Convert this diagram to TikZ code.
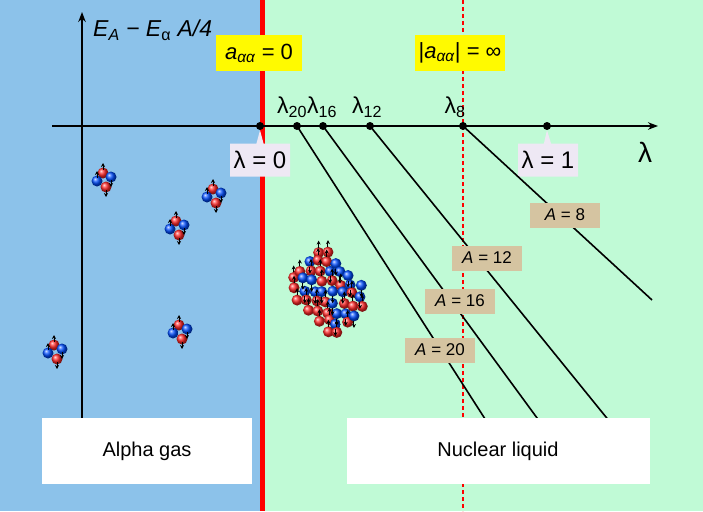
\documentclass[tikz,border=0pt]{standalone}
\usepackage{fontspec}
\setmainfont{Liberation Sans}
\usetikzlibrary{arrows.meta,shapes.callouts}
\definecolor{bluebg}{RGB}{140,194,234}
\definecolor{greenbg}{RGB}{192,250,214}
\definecolor{ybox}{RGB}{255,250,0}
\definecolor{tanbox}{RGB}{213,196,161}
\definecolor{lav}{RGB}{238,232,244}
\newcommand{\fs}[1]{\fontsize{#1}{#1}\selectfont}
\tikzset{
  ax/.style={line width=1.6pt,-{Stealth[length=10pt]}},
  dot/.style={circle,fill=black,inner sep=0pt,minimum size=8pt},
  ylab/.style={fill=ybox,minimum width=86pt,minimum height=35pt,font=\fs{22}},
  tlab/.style={fill=tanbox,minimum width=70pt,minimum height=25pt,font=\fs{17}},
  llab/.style={rectangle callout,fill=lav,minimum width=60pt,minimum height=33pt,font=\fs{24}\rmfamily},
  wbox/.style={fill=white,minimum height=66pt,font=\fs{20}},
  traj/.style={line width=1.6pt},
  nuc/.style={circle,inner sep=0pt,minimum size=11pt},
  pic up/.style={-{Stealth[length=4pt,width=4pt]},line width=1pt},
  alpha/.pic={
    \node[nuc,ball color=red!85!white] at (-1,-7){};
    \node[nuc,ball color=blue!70!cyan] at (7,-3){};
    \node[nuc,ball color=blue!70!cyan] at (-7,1){};
    \node[nuc,ball color=red!85!white] at (2,7){};
    \draw[pic up] (-1,-10)--(-1,-17); \draw[pic up] (7,0)--(7,7);
    \draw[pic up] (-7,-2)--(-7,-9); \draw[pic up] (2,10)--(2,17);
  }
}
\begin{document}
\begin{tikzpicture}[x=1pt,y=-1pt]
\useasboundingbox (0,0) rectangle (703,511);
\fill[bluebg] (0,0) rectangle (262,511);
\fill[greenbg] (262,0) rectangle (703,511);
\draw[red,line width=5pt] (262,0)--(262,511);
\draw[red,line width=1.2pt,dash pattern=on 4pt off 3pt] (463,0)--(463,511);
% axes
\coordinate (xs) at (52,126); \coordinate (xe) at (658,126);
\coordinate (ys) at (82,425); \coordinate (ye) at (82,12);
\draw[ax] (xs)--(xe);
\draw[ax] (ys)--(ye);
\node[anchor=west,font=\fs{23}\itshape,inner sep=0pt] (ylabel) at (93,30) {E\textsubscript{A} − E\textsubscript{\rmfamily\upshape α} A/4};
\node[font=\fs{28}\rmfamily] (lam) at (645,152) {λ};
% yellow
\node[ylab] (y1) at (259,53) {\textit{a}\textsubscript{\textit{αα}} = 0};
\node[ylab] (y2) at (460,53) {|\textit{a}\textsubscript{\textit{αα}}| = ∞};
% dots
\node[dot] (d0) at (260,126){};
\node[dot] (d20) at (297,126){};
\node[dot] (d16) at (323,126){};
\node[dot] (d12) at (370,126){};
\node[dot] (d8) at (463,126){};
\node[dot] (d1) at (547,126){};
\begin{scope}[font=\fs{23}\rmfamily]
\node (l20) at (292,107){λ\textsubscript{20}};
\node (l16) at (322,107){λ\textsubscript{16}};
\node (l12) at (367,107){λ\textsubscript{12}};
\node (l8) at (455,107){λ\textsubscript{8}};
\end{scope}
\node[llab,callout absolute pointer={(d0.south)}] (lz) at (260,160){λ = 0};
\node[llab,callout absolute pointer={(d1.south)}] (lo) at (548,160){λ = 1};
% trajectories
\coordinate (e20) at (487,422); \coordinate (e16) at (540,422);
\coordinate (e12) at (610,422); \coordinate (e8) at (652,300);
\draw[traj] (d20.center)--(e20);
\draw[traj] (d16.center)--(e16);
\draw[traj] (d12.center)--(e12);
\draw[traj] (d8.center)--(e8);
\node[tlab] (a8) at (565,215){\textit{A} = 8};
\node[tlab] (a12) at (487,258){\textit{A} = 12};
\node[tlab] (a16) at (460,301){\textit{A} = 16};
\node[tlab] (a20) at (440,350){\textit{A} = 20};
% bottom boxes
\node[wbox,minimum width=210pt] (gas) at (147,451){Alpha gas};
\node[wbox,minimum width=303pt] (liq) at (498,451){Nuclear liquid};
% alphas
\pic at (104,180) {alpha};
\pic at (214,196) {alpha};
\pic at (177,228) {alpha};
\pic at (180,332) {alpha};
\pic at (55,352) {alpha};
% nuclear cluster: balls, then arrows
\foreach \pass in {0,1}{
\pgfmathsetseed{11}
\foreach \i in {0,...,7}{
  \foreach \j in {0,...,8}{
    \pgfmathsetmacro{\cx}{328+(\i-3.5)*9.5+(\j-4)*1.5+rand*2}
    \pgfmathsetmacro{\cy}{292+(\j-4)*10+(\i-3.5)*1+rand*2}
    \pgfmathsetmacro{\dd}{abs(\i-3.5)/4.2+abs(\j-4)/4.8}
    \pgfmathparse{\dd<1.1?1:0}
    \ifnum\pgfmathresult=1
      \pgfmathparse{rnd<0.5?1:0}
      \ifnum\pgfmathresult=1
        \ifnum\pass=0 \node[nuc,ball color=red!85!white] at (\cx,\cy){};
        \else \draw[pic up] (\cx,\cy-5)--(\cx,\cy-12); \fi
      \else
        \ifnum\pass=0 \node[nuc,ball color=blue!70!cyan] at (\cx,\cy){};
        \else \draw[pic up] (\cx,\cy+5)--(\cx,\cy+12); \fi
      \fi
    \fi
  }
}}
\end{tikzpicture}
\end{document}
